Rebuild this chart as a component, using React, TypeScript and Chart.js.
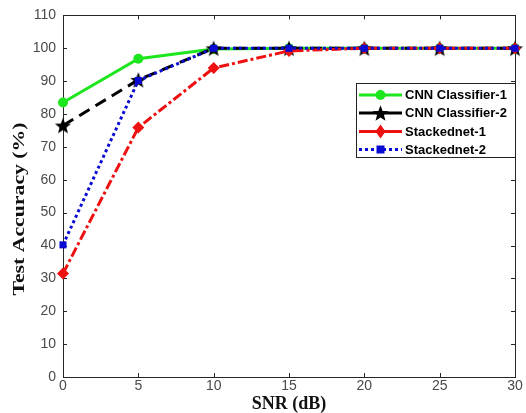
import React, { useEffect, useRef } from "react";
import Chart from "chart.js/auto";

// SNR values on the x axis (dB)
const snr = [0, 5, 10, 15, 20, 25, 30];

// Test accuracy (%) for each model
const cnnClassifier1 = [83.5, 96.8, 99.8, 100, 100, 100, 100];
const cnnClassifier2 = [76.5, 90.4, 100, 100, 100, 100, 100];
const stackednet1 = [31.5, 75.9, 94.0, 99.2, 100, 100, 100];
const stackednet2 = [40.2, 90.2, 100, 100, 100, 100, 100];

const seriesNames = ["CNN Classifier-1", "CNN Classifier-2", "Stackednet-1", "Stackednet-2"];
const yTitle = "Test Accuracy (%)";
const xTitle = "SNR (dB)";

const GREEN = "#1ee61e";
const BLACK = "#000000";
const RED = "#ee1111";
const BLUE = "#0a0ad2";

function drawStarPath(ctx: CanvasRenderingContext2D, cx: number, cy: number, outer: number, inner: number) {
  ctx.beginPath();
  for (let i = 0; i < 10; i++) {
    const r = i % 2 === 0 ? outer : inner;
    const a = -Math.PI / 2 + (i * Math.PI) / 5;
    const x = cx + r * Math.cos(a);
    const y = cy + r * Math.sin(a);
    if (i === 0) ctx.moveTo(x, y);
    else ctx.lineTo(x, y);
  }
  ctx.closePath();
}

function makeStar(color: string): HTMLCanvasElement {
  const c = document.createElement("canvas");
  c.width = 18;
  c.height = 18;
  const ctx = c.getContext("2d")!;
  ctx.fillStyle = color;
  drawStarPath(ctx, 9, 9.8, 8.5, 3.6);
  ctx.fill();
  return c;
}

const boxTicksPlugin = {
  id: "boxTicks",
  beforeDatasetsDraw(chart: any) {
    const { ctx, chartArea } = chart;
    const { left, right, top, bottom } = chartArea;
    const xs = chart.scales.x;
    const ys = chart.scales.y;
    ctx.save();
    ctx.strokeStyle = "#262626";
    ctx.lineWidth = 1;
    ctx.strokeRect(Math.round(left) + 0.5, Math.round(top) + 0.5, Math.round(right - left), Math.round(bottom - top));
    const len = 4;
    ctx.beginPath();
    xs.ticks.forEach((t: any) => {
      const x = Math.round(xs.getPixelForValue(t.value)) + 0.5;
      ctx.moveTo(x, bottom);
      ctx.lineTo(x, bottom - len);
      ctx.moveTo(x, top);
      ctx.lineTo(x, top + len);
    });
    ys.ticks.forEach((t: any) => {
      const y = Math.round(ys.getPixelForValue(t.value)) + 0.5;
      ctx.moveTo(left, y);
      ctx.lineTo(left + len, y);
      ctx.moveTo(right, y);
      ctx.lineTo(right - len, y);
    });
    ctx.stroke();

    // vertical axis title, stretched along its length
    ctx.translate(20, 209);
    ctx.rotate(-Math.PI / 2);
    ctx.scale(1.28, 1);
    ctx.fillStyle = "#111111";
    ctx.font = "bold 17px 'Liberation Serif', 'Times New Roman', serif";
    ctx.textAlign = "center";
    ctx.textBaseline = "middle";
    ctx.fillText(yTitle, 0, 0);
    ctx.restore();
  },
};

const legendPlugin = {
  id: "boxLegend",
  afterDatasetsDraw(chart: any) {
    const { ctx, chartArea } = chart;
    const bx = 356.5;
    const by = 83.5;
    const bw = Math.round(chartArea.right) - 356;
    const bh = 74;
    ctx.save();
    ctx.fillStyle = "#ffffff";
    ctx.fillRect(bx, by, bw, bh);
    ctx.strokeStyle = "#222222";
    ctx.lineWidth = 1;
    ctx.strokeRect(bx, by, bw, bh);

    const rows = [95, 113, 131.5, 149.5];
    const colors = [GREEN, BLACK, RED, BLUE];
    const x0 = 359;
    const x1 = 402;
    const mx = 380.5;
    rows.forEach((y, i) => {
      ctx.strokeStyle = colors[i];
      ctx.lineWidth = 3;
      ctx.lineCap = "butt";
      ctx.setLineDash(i === 3 ? [3, 3] : []);
      ctx.beginPath();
      ctx.moveTo(x0, y);
      ctx.lineTo(x1, y);
      ctx.stroke();
      ctx.setLineDash([]);
      ctx.fillStyle = colors[i];
      if (i === 0) {
        ctx.beginPath();
        ctx.arc(mx, y, 5, 0, Math.PI * 2);
        ctx.fill();
      } else if (i === 1) {
        drawStarPath(ctx, mx, y + 0.8, 8.5, 3.6);
        ctx.fill();
      } else if (i === 2) {
        ctx.beginPath();
        ctx.moveTo(mx, y - 7);
        ctx.lineTo(mx + 5, y);
        ctx.lineTo(mx, y + 7);
        ctx.lineTo(mx - 5, y);
        ctx.closePath();
        ctx.fill();
      } else {
        ctx.fillRect(mx - 4, y - 4, 8, 8);
      }
      ctx.fillStyle = "#000000";
      ctx.font = "bold 13px 'Liberation Sans', Arial, sans-serif";
      ctx.textBaseline = "middle";
      ctx.textAlign = "left";
      ctx.fillText(seriesNames[i], 405, y + 0.5);
    });
    ctx.restore();
  },
};

export default function App() {
  const ref = useRef<HTMLCanvasElement | null>(null);

  useEffect(() => {
    if (!ref.current) return;
    const star = makeStar(BLACK);
    const toXY = (vals: number[]) => vals.map((v, i) => ({ x: snr[i], y: v }));

    const chart = new Chart(ref.current, {
      type: "line",
      data: {
        datasets: [
          {
            label: seriesNames[0],
            data: toXY(cnnClassifier1),
            order: 3,
            borderColor: GREEN,
            backgroundColor: GREEN,
            borderWidth: 3,
            pointStyle: "circle",
            pointRadius: 5,
            pointBorderWidth: 0,
          },
          {
            label: seriesNames[1],
            data: toXY(cnnClassifier2),
            order: 2,
            borderColor: BLACK,
            backgroundColor: BLACK,
            borderWidth: 3,
            borderDash: [12, 7],
            pointStyle: star as any,
            pointRadius: 8,
          },
          {
            label: seriesNames[2],
            data: toXY(stackednet1),
            order: 1,
            borderColor: RED,
            backgroundColor: RED,
            borderWidth: 3,
            borderDash: [10, 3, 3, 3],
            pointStyle: "rectRot",
            pointRadius: 6,
            pointBorderWidth: 0,
          },
          {
            label: seriesNames[3],
            data: toXY(stackednet2),
            order: 0,
            borderColor: BLUE,
            backgroundColor: BLUE,
            borderWidth: 3,
            borderDash: [3, 3],
            pointStyle: "rect",
            pointRadius: 5,
            pointBorderWidth: 0,
          },
        ],
      },
      options: {
        animation: false,
        responsive: false,
        devicePixelRatio: 1,
        datasets: { line: { clip: false as any, tension: 0, borderCapStyle: "butt" } },
        layout: { padding: { top: 14, right: 6, left: 0, bottom: 0 } },
        plugins: {
          legend: { display: false },
          tooltip: { enabled: false },
        },
        scales: {
          x: {
            type: "linear",
            min: 0,
            max: 30,
            grid: { display: false, drawTicks: false },
            border: { display: false },
            ticks: {
              stepSize: 5,
              padding: 1,
              color: "#4a4a4a",
              font: { size: 14, family: "'Liberation Sans', Arial, sans-serif" },
            },
            title: {
              display: true,
              text: xTitle,
              color: "#111111",
              padding: { top: -4, bottom: 0 },
              font: { size: 18, weight: "bold", family: "'Liberation Serif', 'Times New Roman', serif", lineHeight: 1 },
            },
            afterFit(scale: any) {
              scale.height = 36;
              scale.paddingLeft = 0;
              scale.paddingRight = 0;
            },
          },
          y: {
            type: "linear",
            min: 0,
            max: 110,
            grid: { display: false, drawTicks: false },
            border: { display: false },
            ticks: {
              stepSize: 10,
              padding: 7,
              color: "#4a4a4a",
              font: { size: 14, family: "'Liberation Sans', Arial, sans-serif" },
            },
            title: { display: false },
            afterFit(scale: any) {
              scale.width = 63;
            },
          },
        },
      },
      plugins: [boxTicksPlugin, legendPlugin],
    });
    return () => chart.destroy();
  }, []);

  return (
    <div style={{ position: "fixed", left: 0, top: 0, width: 526, height: 413, background: "#ffffff" }}>
      <canvas ref={ref} width={526} height={413} />
    </div>
  );
}
